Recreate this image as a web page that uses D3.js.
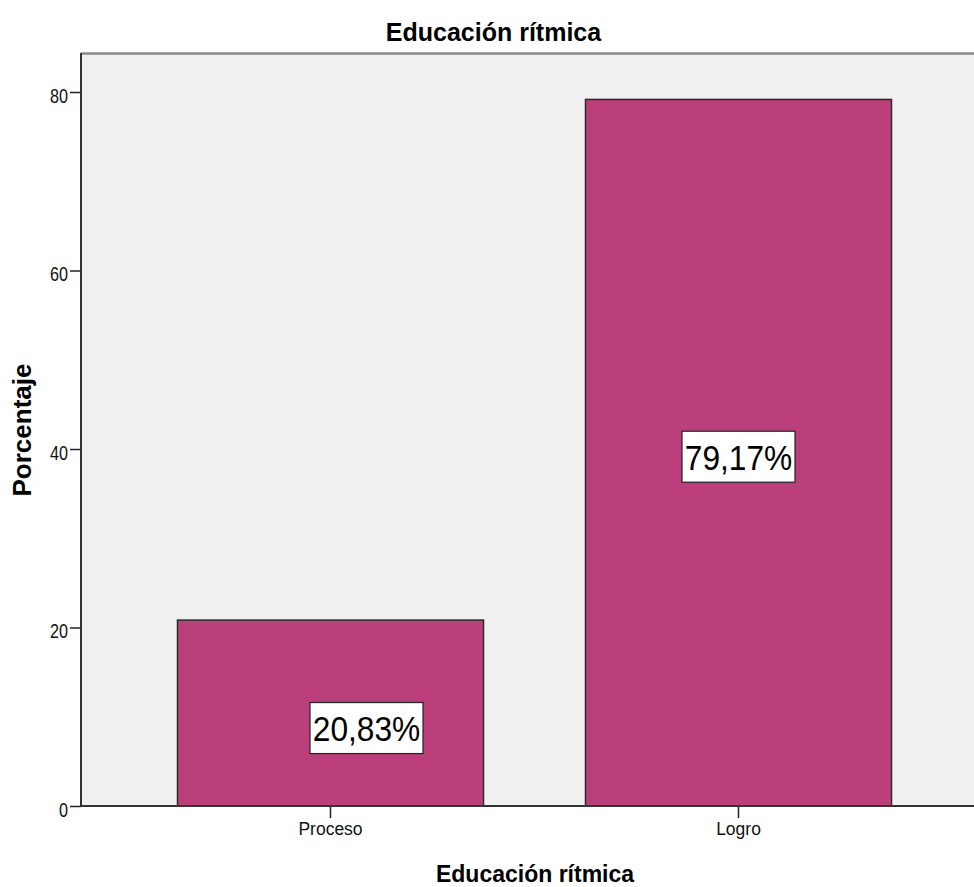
<!DOCTYPE html>
<html>
<head>
<meta charset="utf-8">
<script src="https://cdn.jsdelivr.net/npm/d3@7"></script>
<style>
  html, body { margin: 0; padding: 0; background: #ffffff; }
  svg { display: block; }
  text { font-family: "Liberation Sans", Arial, sans-serif; }
</style>
</head>
<body>
<script>
// ---- data ----
const categories = ["Proceso", "Logro"];
const values = [20.83, 79.17];
const valueLabels = ["20,83%", "79,17%"];
const yTicks = [0, 20, 40, 60, 80];
const chartTitle = "Educación rítmica";
const xTitle = "Educación rítmica";
const yTitle = "Porcentaje";

// ---- layout / style ----
const W = 974, H = 887;
const plot = { left: 81, right: 974, top: 54, bottom: 806 };
const barFill = "#BA3F7A";
const labelOffsets = [{ dx: 36, dy: 15 }, { dx: 0, dy: 4 }];

const svg = d3.select("body").append("svg").attr("width", W).attr("height", H);

const x = d3.scaleBand()
  .domain(categories)
  .range([126.5, 942.5])
  .paddingInner(0.25)
  .paddingOuter(0.125);

const y = d3.scaleLinear().domain([0, 84.26]).range([plot.bottom, plot.top]);

// background
svg.append("rect")
  .attr("x", plot.left).attr("y", plot.top)
  .attr("width", plot.right - plot.left).attr("height", plot.bottom - plot.top)
  .attr("fill", "#F0F0F0");

// top border
svg.append("line")
  .attr("x1", plot.left).attr("x2", plot.right)
  .attr("y1", plot.top - 0.5).attr("y2", plot.top - 0.5)
  .attr("stroke", "#8a8a8a").attr("stroke-width", 2.5);

// bars
svg.selectAll("rect.bar").data(values).enter().append("rect")
  .attr("class", "bar")
  .attr("x", (d, i) => x(categories[i]))
  .attr("y", d => y(d))
  .attr("width", x.bandwidth())
  .attr("height", d => y(0) - y(d))
  .attr("fill", barFill)
  .attr("stroke", "#2b2b2b")
  .attr("stroke-width", 1.5);

// y axis
const yAxis = d3.axisLeft(y).tickValues(yTicks).tickSize(11).tickPadding(2).tickFormat(d3.format("d"));
const gy = svg.append("g").attr("transform", `translate(${plot.left},0)`).call(yAxis);
gy.select(".domain").remove();
gy.selectAll(".tick line").attr("stroke", "#222").attr("stroke-width", 1.5);
gy.selectAll(".tick text")
  .attr("fill", "#111")
  .attr("font-size", 21)
  .attr("font-family", "Liberation Sans, Arial, sans-serif")
  .attr("x", null)
  .attr("dy", null)
  .attr("dominant-baseline", "central")
  .attr("transform", "translate(-13,3) scale(0.77,1)")
  .attr("text-anchor", "end");
svg.append("line")
  .attr("x1", plot.left).attr("x2", plot.left)
  .attr("y1", plot.top - 1).attr("y2", plot.bottom)
  .attr("stroke", "#333").attr("stroke-width", 2);

// x axis
const xAxis = d3.axisBottom(x).tickSize(12).tickPadding(5);
const gx = svg.append("g").attr("transform", `translate(0,${plot.bottom})`).call(xAxis);
gx.select(".domain").remove();
gx.selectAll(".tick line").attr("stroke", "#222").attr("stroke-width", 1.5);
gx.selectAll(".tick text")
  .attr("fill", "#111")
  .attr("font-size", 17.5)
  .attr("font-family", "Liberation Sans, Arial, sans-serif");
svg.append("line")
  .attr("x1", plot.left).attr("x2", plot.right)
  .attr("y1", plot.bottom).attr("y2", plot.bottom)
  .attr("stroke", "#333").attr("stroke-width", 2);

// value labels
const lab = svg.selectAll("g.vlabel").data(values).enter().append("g")
  .attr("class", "vlabel")
  .attr("transform", (d, i) => `translate(${x(categories[i]) + x.bandwidth() / 2 + labelOffsets[i].dx},${y(d / 2) + labelOffsets[i].dy})`);
lab.append("rect")
  .attr("x", -56.5).attr("y", -25.5).attr("width", 113).attr("height", 51)
  .attr("fill", "#fff").attr("stroke", "#222").attr("stroke-width", 1.2);
lab.append("text")
  .attr("text-anchor", "middle")
  .attr("y", 13)
  .attr("transform", "scale(0.88,1)")
  .attr("font-size", 36)
  .attr("fill", "#000")
  .text((d, i) => valueLabels[i]);

// titles
svg.append("text")
  .attr("x", 493.5).attr("y", 40.5)
  .attr("text-anchor", "middle")
  .attr("font-size", 25).attr("font-weight", "bold")
  .attr("fill", "#000")
  .text(chartTitle);

svg.append("text")
  .attr("x", 535).attr("y", 881.5)
  .attr("text-anchor", "middle")
  .attr("font-size", 23).attr("font-weight", "bold")
  .attr("fill", "#000")
  .text(xTitle);

svg.append("text")
  .attr("transform", `translate(31,430) rotate(-90)`)
  .attr("text-anchor", "middle")
  .attr("font-size", 26).attr("font-weight", "bold")
  .attr("fill", "#000")
  .text(yTitle);
</script>
</body>
</html>
